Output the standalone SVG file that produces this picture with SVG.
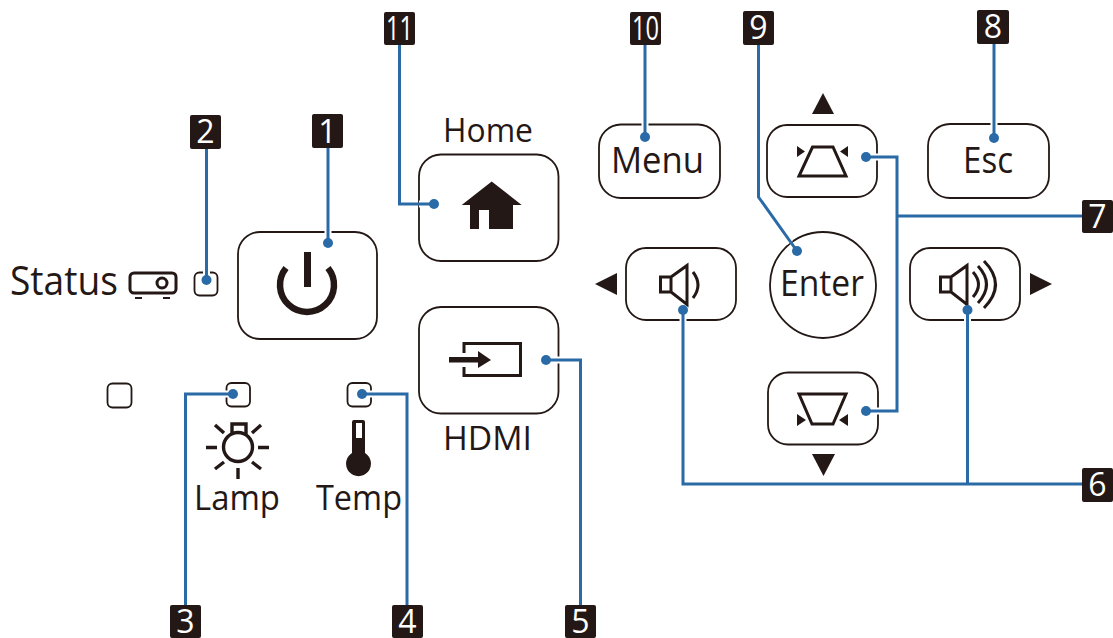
<svg xmlns="http://www.w3.org/2000/svg" width="1113" height="638" viewBox="0 0 1113 638">
<style>
.btn{fill:#fff;stroke:#231815;stroke-width:1.8}
.ic{fill:none;stroke:#231815;stroke-width:3}
.fl{fill:#231815}
.t{font-family:"Open Sans","Noto Sans",sans-serif;font-weight:400;fill:#231815}
.b{fill:#231815}
.n{font-family:"Open Sans","Noto Sans",sans-serif;font-weight:500;font-size:32px;fill:#fff;text-anchor:middle}
.c{fill:none;stroke:#2a6aa6;stroke-width:3}
.h{fill:none;stroke:#fff;stroke-width:7}
.d{fill:#2a6aa6}
</style>
<rect width="1113" height="638" fill="#fff"/>

<g id="status">
<text class="t" x="10" y="295" font-size="40" textLength="108" lengthAdjust="spacingAndGlyphs">Status</text>
<rect class="ic" x="130" y="273" width="46" height="20" rx="4"/>
<circle class="ic" cx="162" cy="283" r="5"/>
<path class="ic" d="M135 298h7M163 298h7" style="stroke-width:2"/>
<rect class="btn" x="194.500" y="272.500" width="23" height="23" rx="5"/>
</g>
<g id="power">
<rect class="btn" x="238" y="232" width="139" height="107" rx="22"/>
<path class="ic" d="M286 268A27 27 0 1 0 328 268" style="stroke-width:6.500"/>
<rect class="fl" x="304" y="252" width="7" height="35"/>
</g>
<g id="led-blank"><rect class="btn" x="107.500" y="383.500" width="24" height="24" rx="5"/></g>
<g id="lamp">
<rect class="btn" x="226.500" y="383" width="23.500" height="23.500" rx="5"/>
<circle class="ic" cx="238" cy="447" r="14.500" style="stroke-width:3.400"/>
<path class="ic" d="M232 434V424H246V434" style="stroke-width:3.400"/>
<path class="ic" d="M206 447.500H217M258 447.500H269M238 468V479M215 425L224 433M261 425L252 433M215 469L224 462M261 469L252 462" style="stroke-width:3.400"/>
<text class="t" x="194" y="510" font-size="35" textLength="86" lengthAdjust="spacingAndGlyphs">Lamp</text>
</g>
<g id="temp">
<rect class="btn" x="347.500" y="383" width="23.500" height="23.500" rx="5"/>
<path class="fl" d="M352 422a2 2 0 0 1 2-2h9a2 2 0 0 1 2 2v31a12.500 12.500 0 1 1-13 0z"/>
<rect x="356" y="423" width="6" height="15" fill="#fff"/>
<text class="t" x="316" y="510" font-size="35" textLength="86" lengthAdjust="spacingAndGlyphs">Temp</text>
</g>
<g id="home">
<text class="t" x="443" y="142" font-size="33" textLength="90" lengthAdjust="spacingAndGlyphs">Home</text>
<rect class="btn" x="419" y="154.500" width="139.500" height="106.500" rx="22"/>
<path class="fl" d="M491.700 181.500L521.700 205H513V229H489V210H479V229H470V205H461.700Z"/>
</g>
<g id="hdmi">
<rect class="btn" x="419" y="307" width="139.500" height="106.500" rx="22"/>
<path class="ic" d="M464 353V343.500H520.500V375.500H464V367"/>
<path class="fl" d="M449 357H478V351L491 360L478 368V362.500H449Z"/>
<text class="t" x="443" y="450" font-size="33" textLength="89" lengthAdjust="spacingAndGlyphs">HDMI</text>
</g>
<g id="menu">
<rect class="btn" x="599" y="124.500" width="121" height="73.500" rx="22"/>
<text class="t" x="611" y="173" font-size="37" textLength="93" lengthAdjust="spacingAndGlyphs">Menu</text>
</g>
<g id="keystone-up">
<path class="fl" d="M823 93L834 114H812Z"/>
<rect class="btn" x="767" y="125" width="110" height="72" rx="20"/>
<path class="ic" d="M812.500 147H833L846 176H799Z"/>
<path class="fl" d="M797 146L805 151.500L797 157ZM848 146L840 151.500L848 157Z"/>
</g>
<g id="esc">
<rect class="btn" x="928" y="124" width="121" height="74" rx="22"/>
<text class="t" x="963" y="173" font-size="37" textLength="50" lengthAdjust="spacingAndGlyphs">Esc</text>
</g>
<g id="vol-down">
<path class="fl" d="M595 284L617 273V295Z"/>
<rect class="btn" x="626" y="248" width="110" height="72" rx="20"/>
<path class="ic" d="M671 277H660.500V292H671M671 277L687 265.500V304.500L671 292Z"/>
<path class="ic" d="M693 272Q703 285 693 298"/>
</g>
<g id="enter">
<circle class="btn" cx="823" cy="285" r="53"/>
<text class="t" x="780" y="296" font-size="36" textLength="84" lengthAdjust="spacingAndGlyphs">Enter</text>
</g>
<g id="vol-up">
<rect class="btn" x="910" y="248" width="110" height="72" rx="20"/>
<path class="ic" d="M951 277H940.500V292H951M951 277L967 265.500V304.500L951 292Z"/>
<path class="ic" d="M973 272Q984 284.500 973 297M978 266Q995 284.500 978 303M984 261Q1007 284.500 984 308"/>
<path class="fl" d="M1030 273L1052 284L1030 295Z"/>
</g>
<g id="keystone-down">
<rect class="btn" x="768" y="372.500" width="110" height="72" rx="20"/>
<path class="ic" d="M799 394H846L833 424H812Z"/>
<path class="fl" d="M797 414L806 420L797 426ZM848 414L839 420L848 426Z"/>
<path class="fl" d="M812 454H835L823.500 476Z"/>
</g>

<g id="connectors">
<g>
<path class="h" d="M328 226V238M206.500 268V276M419 204H425M645 118V132M780 228L790 243"/>
<path class="h" d="M994 118V130M683 314V326M967.500 314V326M872 157H884M872 411H884M552 360H565M362 394H378M233 394H222"/>
</g>
<path class="c" d="M328 148V243"/>
<path class="c" d="M206.500 148V280"/>
<path class="c" d="M233 394H185.500V606"/>
<path class="c" d="M362 394H407V606"/>
<path class="c" d="M546 360H580.500V606"/>
<path class="c" d="M683 310V484H1083M967.500 310V484"/>
<path class="c" d="M866 157H897V411H866M897 216H1083"/>
<path class="c" d="M994 44V138"/>
<path class="c" d="M758.500 44V197L797 251"/>
<path class="c" d="M645 45V137"/>
<path class="c" d="M399.500 45V204H434"/>
<g>
<circle class="d" cx="328" cy="243" r="5"/>
<circle class="d" cx="206.500" cy="280" r="5"/>
<circle class="d" cx="233" cy="394" r="5"/>
<circle class="d" cx="362" cy="394" r="5"/>
<circle class="d" cx="546" cy="360" r="5"/>
<circle class="d" cx="683" cy="310" r="5"/>
<circle class="d" cx="967.500" cy="310" r="5"/>
<circle class="d" cx="866" cy="157" r="5"/>
<circle class="d" cx="866" cy="411" r="5"/>
<circle class="d" cx="994" cy="138" r="5"/>
<circle class="d" cx="797" cy="251" r="5"/>
<circle class="d" cx="645" cy="137" r="5"/>
<circle class="d" cx="434" cy="204" r="5"/>
</g>
</g>

<g id="badge-1"><rect class="b" x="312" y="114" width="31" height="34" rx="2"/><text class="n" x="327.500" y="143">1</text></g>
<g id="badge-2"><rect class="b" x="190" y="115" width="31" height="34" rx="2"/><text class="n" x="205.500" y="143">2</text></g>
<g id="badge-3"><rect class="b" x="170" y="605" width="31" height="33" rx="2"/><text class="n" x="185.500" y="633">3</text></g>
<g id="badge-4"><rect class="b" x="392" y="605" width="31" height="33" rx="2"/><text class="n" x="407.500" y="633">4</text></g>
<g id="badge-5"><rect class="b" x="565" y="605" width="31" height="33" rx="2"/><text class="n" x="580.500" y="633">5</text></g>
<g id="badge-6"><rect class="b" x="1082" y="468" width="31" height="34" rx="2"/><text class="n" x="1097.500" y="496">6</text></g>
<g id="badge-7"><rect class="b" x="1082" y="200" width="31" height="33" rx="2"/><text class="n" x="1097.500" y="228">7</text></g>
<g id="badge-8"><rect class="b" x="977" y="10" width="32" height="34" rx="2"/><text class="n" x="993" y="38">8</text></g>
<g id="badge-9"><rect class="b" x="743" y="11" width="31" height="34" rx="2"/><text class="n" x="758.500" y="39">9</text></g>
<g id="badge-10"><rect class="b" x="630" y="12" width="31" height="33" rx="2"/><text class="n" x="645.500" y="40" textLength="27" lengthAdjust="spacingAndGlyphs">10</text></g>
<g id="badge-11"><rect class="b" x="384" y="12" width="31" height="33" rx="2"/><text class="n" x="399.500" y="40" textLength="27" lengthAdjust="spacingAndGlyphs">11</text></g>
</svg>
